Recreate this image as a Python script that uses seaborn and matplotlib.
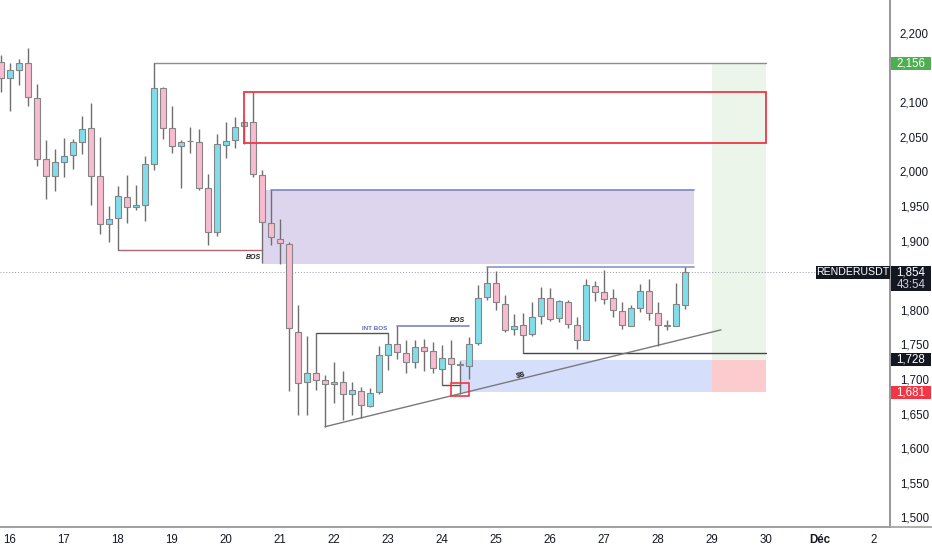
import numpy as np
import pandas as pd
import matplotlib
matplotlib.use("Agg")
import matplotlib.pyplot as plt
from matplotlib.patches import Rectangle
import seaborn as sns

# --- 4h candles, RENDERUSDT (index 0 = 16th 00:00) ---
candle_idx = list(range(-1, 76))
opens = [2.158, 2.135, 2.147, 2.157, 2.106, 2.018, 1.993, 2.013, 2.023, 2.043,
         2.062, 1.993, 1.924, 1.933, 1.963, 1.948, 1.952, 2.011, 2.121, 2.063,
         2.036, 2.044, 2.042, 1.976, 1.912, 2.038, 2.045, 2.065, 2.071, 1.995,
         1.926, 1.903, 1.895, 1.768, 1.695, 1.708, 1.698, 1.693, 1.695, 1.678,
         1.683, 1.661, 1.681, 1.735, 1.750, 1.737, 1.724, 1.746, 1.740, 1.714,
         1.731, 1.721, 1.719, 1.752, 1.818, 1.838, 1.809, 1.772, 1.778, 1.765,
         1.791, 1.817, 1.788, 1.811, 1.778, 1.756, 1.835, 1.826, 1.817, 1.798,
         1.777, 1.802, 1.827, 1.796, 1.777, 1.777, 1.807]
highs = [2.168, 2.157, 2.162, 2.179, 2.127, 2.045, 2.032, 2.048, 2.047, 2.080,
         2.099, 2.050, 1.950, 1.979, 1.995, 1.980, 2.022, 2.156, 2.122, 2.095,
         2.046, 2.064, 2.061, 1.996, 2.054, 2.072, 2.078, 2.074, 2.115, 2.002,
         1.973, 1.931, 1.898, 1.807, 1.762, 1.767, 1.706, 1.725, 1.711, 1.695,
         1.689, 1.687, 1.748, 1.767, 1.776, 1.756, 1.756, 1.758, 1.754, 1.749,
         1.757, 1.726, 1.760, 1.836, 1.862, 1.856, 1.821, 1.794, 1.795, 1.811,
         1.833, 1.831, 1.814, 1.814, 1.789, 1.844, 1.842, 1.858, 1.830, 1.811,
         1.807, 1.837, 1.844, 1.811, 1.785, 1.838, 1.862]
lows = [2.115, 2.087, 2.125, 2.094, 2.008, 1.960, 1.972, 1.992, 2.003, 2.025,
        1.952, 1.909, 1.898, 1.887, 1.926, 1.944, 1.929, 2.002, 2.047, 2.027,
        1.976, 2.026, 1.973, 1.893, 1.907, 2.020, 2.034, 2.040, 1.992, 1.867,
        1.894, 1.866, 1.682, 1.648, 1.648, 1.684, 1.631, 1.665, 1.641, 1.648,
        1.643, 1.660, 1.678, 1.713, 1.729, 1.708, 1.716, 1.711, 1.708, 1.691,
        1.695, 1.679, 1.700, 1.749, 1.814, 1.800, 1.768, 1.764, 1.738, 1.762,
        1.780, 1.784, 1.783, 1.773, 1.744, 1.756, 1.812, 1.809, 1.790, 1.772,
        1.776, 1.797, 1.785, 1.747, 1.771, 1.777, 1.801]
closes = [2.135, 2.146, 2.157, 2.107, 2.018, 1.993, 2.013, 2.022, 2.042, 2.061,
          1.993, 1.924, 1.931, 1.964, 1.949, 1.951, 2.010, 2.121, 2.063, 2.037,
          2.043, 2.044, 1.976, 1.912, 2.039, 2.044, 2.064, 2.071, 1.996, 1.927,
          1.905, 1.896, 1.773, 1.694, 1.708, 1.699, 1.693, 1.696, 1.678, 1.684,
          1.662, 1.680, 1.735, 1.751, 1.739, 1.724, 1.746, 1.740, 1.716, 1.731,
          1.721, 1.720, 1.751, 1.817, 1.838, 1.811, 1.771, 1.777, 1.764, 1.790,
          1.817, 1.787, 1.812, 1.780, 1.756, 1.836, 1.826, 1.816, 1.799, 1.778,
          1.802, 1.827, 1.796, 1.778, 1.777, 1.808, 1.854]

# x-axis day labels (one day = 6 candles)
day_labels = ["16", "17", "18", "19", "20", "21", "22", "23", "24", "25",
              "26", "27", "28", "29", "30", "Déc", "2"]
day_offsets = list(range(17))

# price scale labels (2,150 and 1,850 sit under the price tags)
price_ticks = [1.50, 1.55, 1.60, 1.65, 1.70, 1.75, 1.80, 1.90, 1.95,
               2.00, 2.05, 2.10, 2.20]

# price levels drawn on the chart
high_level = 2.156
supply_top, supply_bottom = 2.115, 2.041
purple_top, purple_bottom = 1.973, 1.866
bos_level = 1.887
int_bos_level = 1.767
bos2_level = 1.776
range_top = 1.862
range_low = 1.738
target_low, target_high = 1.681, 1.728
last_price = 1.854
trend_x = [35, 79]
trend_y = [1.631, 1.771]

df = pd.DataFrame({"k": candle_idx, "open": opens, "high": highs,
                   "low": lows, "close": closes})
df["up"] = df["close"] >= df["open"]

sns.set_theme(style="white")
plt.rcParams["font.family"] = ["Liberation Sans", "DejaVu Sans"]

fig = plt.figure(figsize=(9.32, 5.5), dpi=100)
ax = fig.add_axes([0, 23 / 550, 890 / 932, 527 / 550])

UP = "#80deea"
DOWN = "#f8bbd0"
EDGE = "#6f6f6f"

# zones first (behind candles)
ax.add_patch(Rectangle((28, purple_bottom), 48, purple_top - purple_bottom,
                       facecolor="#ddd5ee", edgecolor="none", zorder=0))
ax.plot([29, 76], [purple_top, purple_top], color="#7c83c9", lw=1.2, zorder=1)
ax.add_patch(Rectangle((50, target_low), 28, target_high - target_low,
                       facecolor="#d5dffc", edgecolor="none", zorder=0))
ax.add_patch(Rectangle((78, target_high), 6, high_level - target_high,
                       facecolor="#ebf5ea", edgecolor="none", zorder=0))
ax.add_patch(Rectangle((78, target_low), 6, target_high - target_low,
                       facecolor="#fbcbce", edgecolor="none", zorder=0))
ax.add_patch(Rectangle((26, supply_bottom), 58, supply_top - supply_bottom,
                       facecolor="none", edgecolor="#f23645", lw=1.3, zorder=4))
ax.add_patch(Rectangle((49, 1.675), 2, 0.019,
                       facecolor="none", edgecolor="#f23645", lw=1.2, zorder=4))

# current price dotted line
ax.axhline(last_price, color="#9598a1", lw=0.7, ls=(0, (1, 2)), zorder=1)

# candles
ax.vlines(df["k"], df["low"], df["high"], color=EDGE, lw=1.0, zorder=2)
body = (df["close"] - df["open"]).abs().clip(lower=0.0004)
ax.bar(df["k"], body, bottom=df[["open", "close"]].min(axis=1), width=0.68,
       color=np.where(df["up"], UP, DOWN), edgecolor="#858585", linewidth=0.8,
       zorder=3)

# structure lines
ax.plot([16, 84], [high_level, high_level], color="#8c8c8c", lw=1.0, zorder=1)
ax.plot([12, 28], [bos_level, bos_level], color="#b4646c", lw=1.0, zorder=1)
ax.plot([34, 42], [int_bos_level, int_bos_level], color="#555555", lw=1.0, zorder=1)
ax.plot([43, 51], [bos2_level, bos2_level], color="#7c86c4", lw=1.2, zorder=1)
ax.plot([48, 50], [1.691, 1.691], color="#555555", lw=1.0, zorder=1)
ax.plot([53, 76], [range_top, range_top], color="#8a95c2", lw=1.2, zorder=1)
ax.plot([57, 84], [range_low, range_low], color="#444444", lw=1.0, zorder=1)
sns.lineplot(x=trend_x, y=trend_y, ax=ax, color="#7a7a7a", lw=1.0, zorder=1)

ax.text(27, bos_level - 0.006, "BOS", fontsize=5, fontweight="bold",
        fontstyle="italic", ha="center", va="top", color="#222222")
ax.text(40.5, int_bos_level + 0.003, "INT BOS", fontsize=4.5,
        fontweight="bold", ha="center", va="bottom", color="#5c6bc0")
ax.text(49.7, bos2_level + 0.004, "BOS", fontsize=5, fontweight="bold",
        fontstyle="italic", ha="center", va="bottom", color="#222222")
ax.text(56.8, 1.705, r"\$\$", fontsize=6, fontweight="bold", ha="center",
        va="center", rotation=13, color="#222222")

# axes
ax.set_xlim(-1.11, 97.78)
ax.set_ylim(1.4861, 2.2477)
ax.set_xticks([d * 6 for d in day_offsets])
ax.set_xticklabels(day_labels)
for lab in ax.get_xticklabels():
    if lab.get_text() == "Déc":
        lab.set_fontweight("bold")
ax.yaxis.tick_right()
ax.set_yticks(price_ticks)
ax.set_yticklabels([f"{v:.3f}".replace(".", ",") for v in price_ticks])
ax.tick_params(axis="both", length=0, labelsize=8.3, colors="#131722")
ax.tick_params(axis="y", pad=7)
ax.tick_params(axis="x", pad=5)
for side in ["top", "left"]:
    ax.spines[side].set_visible(False)
ax.spines["right"].set_color("#8a8a8a")
ax.spines["bottom"].set_color("#a0a0a0")
ax.spines["bottom"].set_linewidth(1.2)
ax.grid(False)

# price tags on the right axis
tag_kw = dict(transform=ax.get_yaxis_transform(), clip_on=False, zorder=6)
def price_tag(y, text, face, fc="white", h=0.019):
    ax.add_patch(Rectangle((1.0015, y - h / 2), 0.045, h, facecolor=face,
                           edgecolor="none", **tag_kw))
    ax.text(1.0235, y, text, ha="center", va="center", fontsize=8.3,
            color=fc, transform=ax.get_yaxis_transform(), zorder=7)

price_tag(high_level, "2,156", "#4caf50")
price_tag(target_high, "1,728", "#131722")
price_tag(target_low, "1,681", "#f23645")
ax.add_patch(Rectangle((1.0015, last_price - 0.027), 0.045, 0.037,
                       facecolor="#131722", edgecolor="none", **tag_kw))
ax.text(1.0235, last_price, "1,854", ha="center", va="center", fontsize=8.3,
        color="white", transform=ax.get_yaxis_transform(), zorder=7)
ax.text(1.0235, last_price - 0.0175, "43:54", ha="center", va="center",
        fontsize=8.3, color="#d0d0d0", transform=ax.get_yaxis_transform(), zorder=7)
ax.add_patch(Rectangle((0.917, last_price - 0.0095), 0.083, 0.019,
                       facecolor="#131722", edgecolor="none", **tag_kw))
ax.text(0.9585, last_price, "RENDERUSDT", ha="center", va="center",
        fontsize=7.6, color="white", transform=ax.get_yaxis_transform(), zorder=7)

# bottom rule continues under the price scale
fig.add_artist(plt.Line2D([0, 1], [23 / 550, 23 / 550], color="#a0a0a0",
                          lw=1.2, transform=fig.transFigure))

fig.savefig("out.png", dpi=100)
